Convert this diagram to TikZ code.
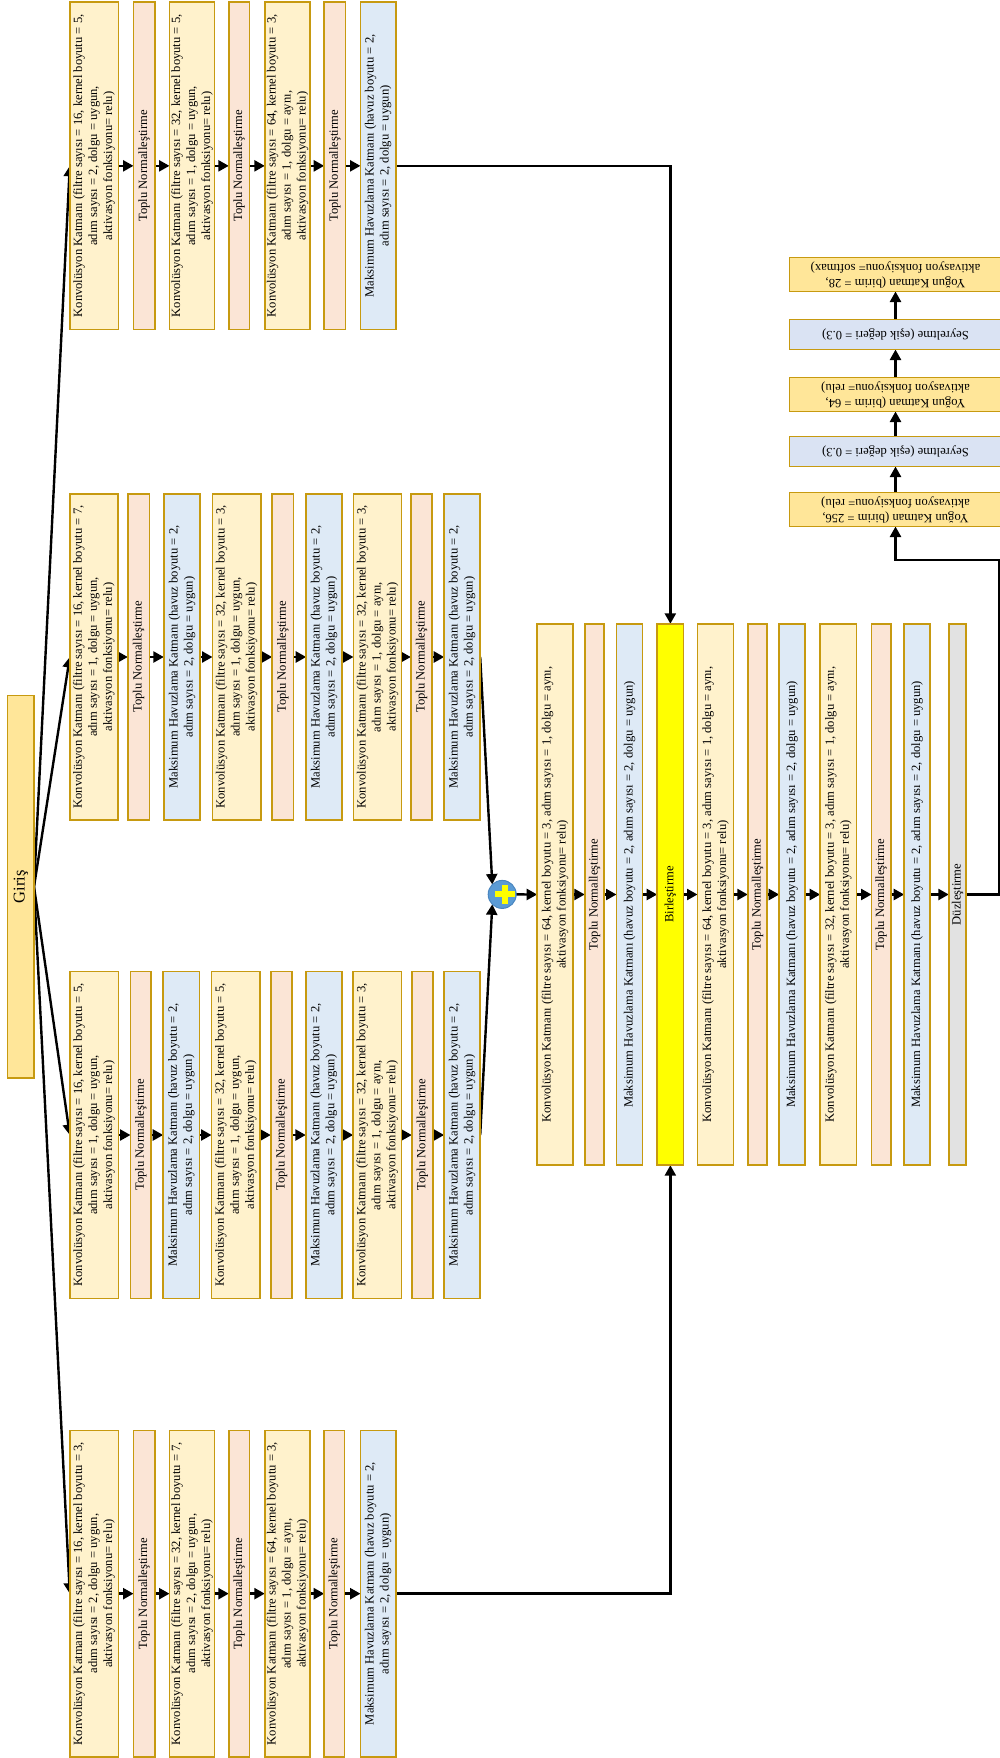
\documentclass[tikz,border=0pt]{standalone}
\usepackage{fontspec}
\setmainfont{Liberation Serif}
\usetikzlibrary{arrows.meta,backgrounds,calc}
\definecolor{edgegold}{HTML}{C79A10}
\definecolor{convfill}{HTML}{FFF2CC}
\definecolor{bnfill}{HTML}{FBE5D6}
\definecolor{poolfill}{HTML}{DEEAF6}
\definecolor{densefill}{HTML}{FFE699}
\definecolor{dropfill}{HTML}{DAE3F3}
\definecolor{flatfill}{HTML}{E2E2E2}
\definecolor{plusfill}{HTML}{5B9BD5}
\definecolor{plusedge}{HTML}{4A86C0}
\definecolor{pureyellow}{HTML}{FFFF00}
\tikzset{
  layerbox/.style={draw=edgegold,line width=1.5pt,inner sep=0pt,outer sep=0pt,text=black,
    font=\fontsize{12.6}{15}\selectfont},
  convbox/.style={layerbox,fill=convfill},
  bnbox/.style={layerbox,fill=bnfill},
  poolbox/.style={layerbox,fill=poolfill},
  densebox/.style={layerbox,fill=densefill},
  dropbox/.style={layerbox,fill=dropfill},
  flatbox/.style={layerbox,fill=flatfill},
  mergebox/.style={layerbox,fill=pureyellow},
  inputbox/.style={layerbox,fill=densefill,font=\fontsize{16.5}{19}\selectfont},
  link/.style={line width=2.4pt,draw=black,-{Triangle[length=10.5pt,width=11pt]}},
}
\newcommand\lay[7]{\node[#1,minimum width={#4pt-#3pt-1pt},minimum height={#6pt-#5pt-1pt}] (#2) at ({(#3+#4)/2},{(#5+#6)/2}) {\rotatebox[origin=c]{90}{\begin{tabular}{@{}c@{}}#7\end{tabular}}};}
\newcommand\layflip[7]{\node[#1,minimum width={#4pt-#3pt-1pt},minimum height={#6pt-#5pt-1pt}] (#2) at ({(#3+#4)/2},{(#5+#6)/2}) {\rotatebox[origin=c]{180}{\begin{tabular}{@{}c@{}}#7\end{tabular}}};}
\newcommand\convt[4]{Konvolüsyon Katmanı (filtre sayısı = #1, kernel boyutu = #2,\\adım sayısı = #3, dolgu = #4,\\aktivasyon fonksiyonu= relu)}
\newcommand\convw[2]{Konvolüsyon Katmanı (filtre sayısı = #1, kernel boyutu = 3, adım sayısı = 1, dolgu = aynı,\\aktivasyon fonksiyonu= relu)}
\newcommand\poolt{Maksimum Havuzlama Katmanı (havuz boyutu = 2,\\adım sayısı = 2, dolgu = uygun)}
\newcommand\poolw{Maksimum Havuzlama Katmanı (havuz boyutu = 2, adım sayısı = 2, dolgu = uygun)}
\newcommand\bnt{Toplu Normalleştirme}
\begin{document}
\begin{tikzpicture}[x=1pt,y=-1pt]
\useasboundingbox (0,0) rectangle (1000,1758);
% input
\lay{inputbox}{inp}{7}{34.5}{695}{1078.5}{Giriş}
% row 1
\lay{convbox}{a1}{69.3}{119}{1.7}{330}{\convt{16}{5}{2}{uygun}}
\lay{bnbox}{a2}{133}{155.3}{1.7}{330}{\bnt}
\lay{convbox}{a3}{169.3}{214.7}{1.7}{330}{\convt{32}{5}{1}{uygun}}
\lay{bnbox}{a4}{228.3}{250}{1.7}{330}{\bnt}
\lay{convbox}{a5}{264.3}{310.7}{1.7}{330}{\convt{64}{3}{1}{aynı}}
\lay{bnbox}{a6}{323.7}{346}{1.7}{330}{\bnt}
\lay{poolbox}{a7}{360}{396.3}{1.7}{330}{\poolt}
% row 2
\lay{convbox}{b1}{69.3}{118.3}{493.3}{820.7}{\convt{16}{7}{1}{uygun}}
\lay{bnbox}{b2}{127.3}{150}{493.3}{820.7}{\bnt}
\lay{poolbox}{b3}{163.3}{200.7}{493.3}{820.7}{\poolt}
\lay{convbox}{b4}{212}{261.3}{493.3}{820.7}{\convt{32}{3}{1}{uygun}}
\lay{bnbox}{b5}{271.7}{294}{493.3}{820.7}{\bnt}
\lay{poolbox}{b6}{305.7}{342.3}{493.3}{820.7}{\poolt}
\lay{convbox}{b7}{353}{402}{493.3}{820.7}{\convt{32}{3}{1}{aynı}}
\lay{bnbox}{b8}{410.3}{432.7}{493.3}{820.7}{\bnt}
\lay{poolbox}{b9}{443.7}{480.7}{493.3}{820.7}{\poolt}
% row 3
\lay{convbox}{c1}{69.3}{119}{971}{1299}{\convt{16}{5}{1}{uygun}}
\lay{bnbox}{c2}{130}{151.7}{971}{1299}{\bnt}
\lay{poolbox}{c3}{162.7}{200}{971}{1299}{\poolt}
\lay{convbox}{c4}{211}{260.7}{971}{1299}{\convt{32}{5}{1}{uygun}}
\lay{bnbox}{c5}{270.3}{292.7}{971}{1299}{\bnt}
\lay{poolbox}{c6}{305.3}{342.3}{971}{1299}{\poolt}
\lay{convbox}{c7}{352.7}{402}{971}{1299}{\convt{32}{3}{1}{aynı}}
\lay{bnbox}{c8}{411.3}{433.3}{971}{1299}{\bnt}
\lay{poolbox}{c9}{443.7}{480.7}{971}{1299}{\poolt}
% row 4
\lay{convbox}{d1}{69.3}{119}{1430}{1757.3}{\convt{16}{3}{2}{uygun}}
\lay{bnbox}{d2}{133}{155.3}{1430}{1757.3}{\bnt}
\lay{convbox}{d3}{169.3}{214.7}{1430}{1757.3}{\convt{32}{7}{2}{uygun}}
\lay{bnbox}{d4}{228.3}{250}{1430}{1757.3}{\bnt}
\lay{convbox}{d5}{264.3}{310.7}{1430}{1757.3}{\convt{64}{3}{1}{aynı}}
\lay{bnbox}{d6}{323.7}{345}{1430}{1757.3}{\bnt}
\lay{poolbox}{d7}{360}{396.3}{1430}{1757.3}{\poolt}
% add node
\node[circle,draw=plusedge,line width=1pt,fill=plusfill,minimum size=28pt,inner sep=0pt,outer sep=0pt,
  path picture={\fill[pureyellow] ([shift={(-7.5pt,-3pt)}]path picture bounding box.center) rectangle ([shift={(12.5pt,3pt)}]path picture bounding box.center);
  \fill[pureyellow] ([shift={(-0.5pt,-9.5pt)}]path picture bounding box.center) rectangle ([shift={(5.5pt,9.5pt)}]path picture bounding box.center);}]
  (plus) at (502.2,894.4) {};
% main row
\def\mya{623.3}\def\myb{1165.7}
\lay{convbox}{m1}{536.7}{573.3}{\mya}{\myb}{\convw{64}{3}}
\lay{bnbox}{m2}{584.3}{604.7}{\mya}{\myb}{\bnt}
\lay{poolbox}{m3}{616}{643}{\mya}{\myb}{\poolw}
\lay{mergebox}{m4}{656.7}{684}{\mya}{\myb}{Birleştirme}
\lay{convbox}{m5}{697}{734}{\mya}{\myb}{\convw{64}{3}}
\lay{bnbox}{m6}{747.3}{767.7}{\mya}{\myb}{\bnt}
\lay{poolbox}{m7}{778.7}{805.7}{\mya}{\myb}{\poolw}
\lay{convbox}{m8}{819.7}{857}{\mya}{\myb}{Konvolüsyon Katmanı (filtre sayısı = 32, kernel boyutu = 3, adım sayısı = 1, dolgu = aynı,\\aktivasyon fonksiyonu= relu)}
\lay{bnbox}{m9}{871}{891.3}{\mya}{\myb}{\bnt}
\lay{poolbox}{m10}{903.7}{930.7}{\mya}{\myb}{\poolw}
\lay{flatbox}{m11}{948.3}{966.7}{\mya}{\myb}{Düzleştirme}
% right column
\layflip{densebox}{e1}{789}{1002}{492}{527}{Yoğun Katman (birim = 256,\\aktivasyon fonksiyonu= relu)}
\layflip{dropbox}{e2}{789}{1002}{436}{467}{Seyreltme (eşik değeri = 0.3)}
\layflip{densebox}{e3}{789}{1002}{377}{412}{Yoğun Katman (birim = 64,\\aktivasyon fonksiyonu= relu)}
\layflip{dropbox}{e4}{789}{1002}{319}{350}{Seyreltme (eşik değeri = 0.3)}
\layflip{densebox}{e5}{789}{1002}{257}{292}{Yoğun Katman (birim = 28,\\aktivasyon fonksiyonu= softmax)}
\coordinate (turn) at (999,560);
\begin{scope}[on background layer]
  \foreach \r in {a1,b1,c1,d1} \draw[link] (inp.east) -- (\r.west);
  \foreach \p/\q in {a1/a2,a2/a3,a3/a4,a4/a5,a5/a6,a6/a7,
      b1/b2,b2/b3,b3/b4,b4/b5,b5/b6,b6/b7,b7/b8,b8/b9,
      c1/c2,c2/c3,c3/c4,c4/c5,c5/c6,c6/c7,c7/c8,c8/c9,
      d1/d2,d2/d3,d3/d4,d4/d5,d5/d6,d6/d7,
      m1/m2,m2/m3,m3/m4,m4/m5,m5/m6,m6/m7,m7/m8,m8/m9,m9/m10,m10/m11}
    \draw[link] (\p.east) -- (\q.west);
  \draw[link] (b9.east) -- (plus.135);
  \draw[link] (c9.east) -- (plus.225);
  \draw[link] (plus.east) -- (m1.west);
  \draw[link] (a7.east) -| (m4.north);
  \draw[link] (d7.east) -| (m4.south);
  \draw[link] (m11.east) -| (turn) -| (e1.south);
  \draw[link] (e1.north) -- (e2.south);
  \draw[link] (e2.north) -- (e3.south);
  \draw[link] (e3.north) -- (e4.south);
  \draw[link] (e4.north) -- (e5.south);
\end{scope}
\end{tikzpicture}
\end{document}
